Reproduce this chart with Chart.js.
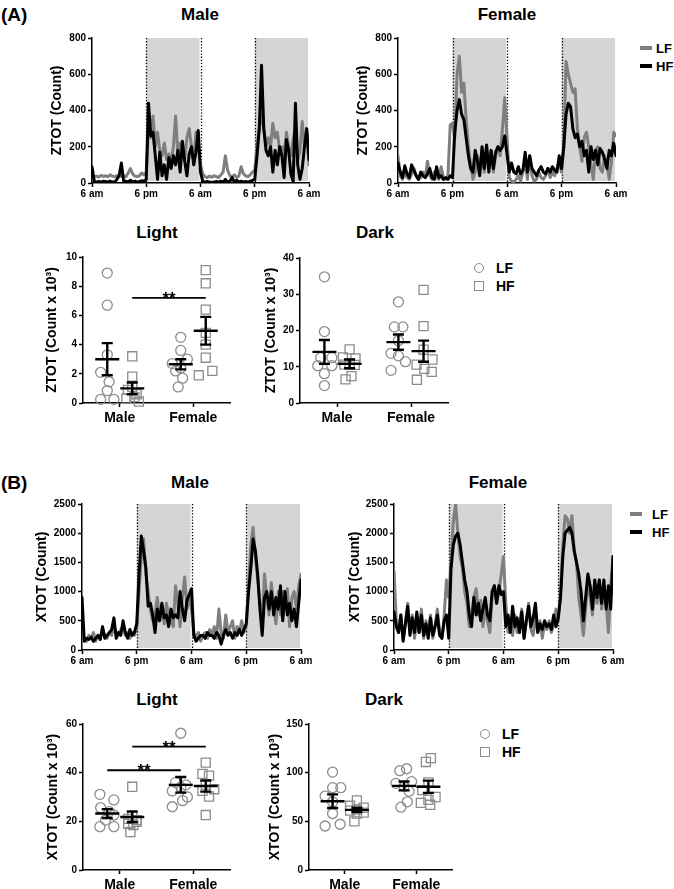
<!DOCTYPE html>
<html>
<head>
<meta charset="utf-8">
<script src="https://cdn.jsdelivr.net/npm/chart.js@4.4.1/dist/chart.umd.min.js"></script>
<style>
  body { margin: 0; background: #fff; font-family: "Liberation Sans", Arial, sans-serif; }
  #page { position: relative; width: 674px; height: 889px; overflow: hidden; background: #fff; }
  canvas { position: absolute; }
  .txt { position: absolute; font-weight: bold; color: #000; white-space: nowrap; line-height: 1; }
  .sw { position: absolute; }
</style>
</head>
<body>
<div id="page"></div>
<script>
// ---------- data ----------
// time bins (hours after 6 am, day 1)
const binHours = [0,0.5,1,1.5,2,2.5,3,3.5,4,4.5,5,5.5,6,6.5,7,7.5,8,8.5,9,9.5,10,10.5,11,11.5,
  12,12.5,13,13.5,14,14.5,15,15.5,16,16.5,17,17.5,18,18.5,19,19.5,20,20.5,21,21.5,22,22.5,23,23.5,
  24,24.5,25,25.5,26,26.5,27,27.5,28,28.5,29,29.5,30,30.5,31,31.5,32,32.5,33,33.5,34,34.5,35,35.5,
  36,36.5,37,37.5,38,38.5,39,39.5,40,40.5,41,41.5,42,42.5,43,43.5,44,44.5,45,45.5,46,46.5,47,47.5,48];
const xTickHours = [0, 12, 24, 36, 48];
const xTickLabels = ['6 am', '6 pm', '6 am', '6 pm', '6 am'];
const darkPhases = [[12, 24], [36, 48]];

// (A) ZTOT counts
const aMaleLF = [40,35,38,33,42,36,40,34,45,38,35,40,42,36,40,35,55,80,50,38,35,40,55,45,60,
  300,250,370,200,280,180,150,220,130,160,110,200,370,150,220,180,130,250,300,200,120,280,200,100,
  50,35,30,38,32,40,35,30,45,60,150,70,40,35,45,30,40,90,50,40,35,45,60,70,
  200,300,380,300,200,250,200,330,250,280,180,200,150,280,200,150,240,300,120,180,340,200,280,100];
const aMaleHF = [90,10,5,8,5,10,8,5,10,5,5,20,40,110,10,10,5,15,5,10,5,8,12,10,20,
  440,260,280,150,20,170,40,100,20,140,80,150,100,180,60,230,120,40,160,200,100,170,290,60,
  10,5,8,5,3,5,8,5,10,5,20,5,10,30,5,15,5,10,5,8,5,10,15,20,
  150,300,650,300,180,150,200,60,180,100,200,150,30,240,180,50,10,440,100,20,80,200,300,130];
const aFemLF = [150,40,20,60,30,20,50,80,40,20,30,60,30,120,40,20,60,30,20,90,30,20,40,320,330,
  250,600,700,500,550,350,200,100,20,60,150,80,180,60,200,100,180,60,150,200,150,300,470,250,
  30,10,5,20,40,10,60,120,20,150,40,10,20,60,30,20,40,80,30,60,40,80,120,60,
  200,670,600,550,500,520,300,200,120,250,280,200,100,20,180,200,80,60,150,100,20,120,280,260];
const aFemHF = [110,60,30,95,50,30,100,70,40,20,60,40,30,50,80,30,20,90,30,40,20,30,20,40,30,
  280,400,460,380,350,250,150,80,60,180,120,40,200,80,210,60,180,80,170,200,180,200,260,160,
  60,110,60,50,90,50,70,170,60,150,80,60,40,70,90,60,50,80,60,90,70,60,150,80,
  200,380,440,420,300,250,270,200,230,150,180,60,200,130,180,100,190,170,130,80,180,150,220,150];

// (B) XTOT counts
const bMaleLF = [250,200,150,250,200,300,150,250,200,350,250,200,300,250,400,300,250,350,400,250,300,200,300,250,400,
  1000,1600,1900,1300,1000,700,500,600,900,500,700,450,800,600,500,400,1100,800,400,900,1250,700,900,700,
  300,200,300,150,250,300,200,350,250,400,200,700,300,200,600,300,400,500,200,400,300,500,300,400,
  1100,1800,2100,1600,1200,800,500,1300,900,600,1150,800,450,1000,600,1000,700,1050,400,900,1000,700,1100,1300];
const bMaleHF = [900,150,200,180,220,150,200,250,180,400,200,250,300,350,550,200,300,250,500,300,200,350,250,300,450,
  1300,1950,1700,1400,750,800,600,300,700,500,800,550,600,400,700,550,600,550,1000,700,500,850,950,1050,
  250,150,200,250,250,200,300,250,250,200,300,250,100,250,350,250,300,200,300,250,350,250,350,450,
  1000,1400,1900,1700,1300,700,250,900,1000,700,1000,600,900,700,1100,500,1000,600,800,500,700,400,800,1200];
const bFemLF = [1350,500,300,600,200,450,800,300,600,200,500,300,700,200,500,250,600,200,400,700,300,200,600,1200,900,
  1500,2200,2500,2000,1600,1400,1000,800,400,600,900,1050,600,850,400,700,500,300,900,1100,800,1000,1300,1600,
  800,300,500,250,600,300,450,700,200,500,800,350,250,600,300,500,200,450,350,500,300,450,700,500,
  1000,1800,2300,2250,2000,2300,1700,1500,900,600,250,700,1200,900,600,1100,800,1200,700,1000,800,300,1100,1600];
const bFemHF = [650,400,300,600,150,450,750,250,550,300,650,300,600,250,450,200,550,250,400,600,250,200,500,600,200,
  1400,1800,1950,2000,1800,1500,1200,1000,600,400,900,600,800,500,700,900,600,500,1000,1100,800,1100,950,1000,
  400,600,300,750,400,550,300,650,200,500,750,400,550,800,300,450,350,500,400,450,350,600,400,550,
  900,1600,2000,2050,2100,2000,1700,1500,1300,1000,500,900,1300,1100,700,1200,900,1200,800,1200,700,1100,700,1600];

// dot plots: groups in order Male LF, Male HF, Female LF, Female HF
const sexes = ['Male', 'Female'];
const aLightMaleLF = [8.9, 6.7, 3.3, 2.1, 1.45, 0.85, 0.25, 0.25];
const aLightMaleHF = [3.2, 1.8, 1.1, 0.9, 0.6, 0.4, 0.3, 0.1];
const aLightFemLF  = [4.5, 3.6, 3.0, 2.7, 2.4, 2.2, 1.7, 1.1];
const aLightFemHF  = [9.1, 8.2, 6.4, 4.8, 4.0, 3.1, 2.2, 1.9];
const aLightMean = [3.0, 1.0, 2.65, 4.95];
const aLightSem  = [1.1, 0.4, 0.35, 0.95];
const aLightSig  = [{from: 1, to: 3, y: 7.2}];

const aDarkMaleLF = [34.8, 19.7, 12.5, 12.5, 10.3, 10.3, 8.1, 4.8];
const aDarkMaleHF = [14.8, 12.6, 12.3, 11.0, 10.6, 10.5, 7.4, 6.5];
const aDarkFemLF  = [27.9, 21.0, 21.0, 17.2, 13.7, 13.0, 11.4, 9.0];
const aDarkFemHF  = [31.2, 21.2, 14.7, 12.0, 10.6, 9.4, 8.6, 6.4];
const aDarkMean = [14.1, 10.8, 16.8, 14.3];
const aDarkSem  = [3.3, 1.2, 2.1, 2.9];

const bLightMaleLF = [31.1, 28.8, 25.6, 24.0, 22.6, 20.5, 17.8, 17.8];
const bLightMaleHF = [34.2, 22.5, 21.0, 20.5, 19.8, 19.0, 18.5, 15.6];
const bLightFemLF  = [56.2, 36.0, 35.0, 34.0, 32.5, 30.0, 28.5, 26.0];
const bLightFemHF  = [44.1, 39.5, 38.8, 35.0, 33.2, 32.5, 30.2, 22.6];
const bLightMean = [23.2, 21.8, 35.0, 34.5];
const bLightSem  = [1.8, 2.2, 3.2, 2.3];
const bLightSig  = [{from: 0, to: 2, y: 41}, {from: 1, to: 3, y: 50.7}];

const bDarkMaleLF = [100.6, 84.6, 84.6, 76.0, 70.0, 58.0, 47.0, 45.2];
const bDarkMaleHF = [71.5, 66.0, 64.0, 62.0, 61.0, 59.0, 58.0, 50.0];
const bDarkFemLF  = [104.0, 102.0, 90.8, 89.0, 86.0, 81.0, 70.0, 64.5];
const bDarkFemHF  = [115.0, 111.0, 90.0, 82.0, 75.0, 72.0, 69.0, 67.0];
const bDarkMean = [70.7, 61.8, 86.4, 85.5];
const bDarkSem  = [7.0, 2.3, 4.6, 6.3];

// ---------- layout only ----------
const FONT = '"Liberation Sans", Arial, sans-serif';
const PAD_T = 10, PAD_R = 16;
const GRAY_LINE = '#7f7f7f', GRAY_DOT = '#8c8c8c', SHADE = '#d5d5d5';
const groupX = [1 - 0.34, 1 + 0.34, 3 - 0.34, 3 + 0.34];
// horizontal spread of points inside each group (x units)
const spread = {
  aLight: [[0,0,0,-0.18,0.05,0,-0.18,0.18],[0,0,0,-0.12,0.12,0.06,-0.16,0.18],[0,0,0.18,-0.23,0,-0.14,0.05,-0.07],[0,0,0,0,0,0,0.18,-0.19]],
  aDark:  [[0,0,-0.1,0.2,-0.18,0.2,0,0],[0,-0.18,0.16,0,-0.14,0.14,0.05,-0.11],[0,-0.11,0.12,0,-0.2,0,0.19,-0.2],[0,0,0,0.24,-0.19,0.02,0.22,-0.18]],
  bLight: [[-0.2,0.18,-0.18,0.05,0.18,-0.05,-0.2,0.18],[0,0,-0.11,0.12,0.12,-0.11,0.03,-0.05],[0,-0.14,0.14,0,-0.23,0.18,0.05,-0.23],[0,-0.09,0.09,0,0.23,-0.09,0.09,0]],
  bDark:  [[0,0,0.23,-0.21,0,0,0.21,-0.21],[0,-0.19,0.19,0,-0.19,0.19,0,-0.07],[0.07,-0.12,0.21,-0.23,0,0.14,0.09,-0.09],[0.07,-0.07,0,-0.17,0.2,0,-0.21,0.05]]
};

const page = document.getElementById('page');

function addCanvas(left, top, w, h) {
  const c = document.createElement('canvas');
  c.width = w; c.height = h;
  c.style.left = left + 'px'; c.style.top = top + 'px';
  c.style.width = w + 'px'; c.style.height = h + 'px';
  page.appendChild(c);
  return c;
}

function addText(text, x, y, size, center) {
  const d = document.createElement('div');
  d.className = 'txt';
  d.textContent = text;
  d.style.fontSize = size + 'px';
  d.style.left = x + 'px'; d.style.top = y + 'px';
  d.style.transform = center ? 'translate(-50%,-50%)' : 'translate(0,-50%)';
  page.appendChild(d);
}

function addSwatch(x, y, w, h, css) {
  const d = document.createElement('div');
  d.className = 'sw';
  d.style.left = (x - w / 2) + 'px'; d.style.top = (y - h / 2) + 'px';
  d.style.width = w + 'px'; d.style.height = h + 'px';
  Object.assign(d.style, css);
  page.appendChild(d);
}

// dark phase shading + dotted boundaries
const nightPlugin = {
  id: 'night',
  beforeDatasetsDraw(chart, args, opts) {
    const {ctx, chartArea: a, scales: {x}} = chart;
    ctx.save();
    ctx.fillStyle = SHADE;
    opts.phases.forEach(([s, e]) => {
      const x0 = x.getPixelForValue(s), x1 = x.getPixelForValue(e);
      ctx.fillRect(x0, a.top, x1 - x0 - 1, a.bottom - a.top - 2);
    });
    ctx.strokeStyle = '#000';
    ctx.lineWidth = 1.3;
    ctx.setLineDash([1.3, 1.8]);
    opts.phases.flat().filter(h => h < x.max).forEach(h => {
      const px = Math.round(x.getPixelForValue(h)) + 0.5;
      ctx.beginPath();
      ctx.moveTo(px, a.top);
      ctx.lineTo(px, a.bottom);
      ctx.stroke();
    });
    ctx.restore();
  }
};

// mean +/- SEM bars
const meanSemPlugin = {
  id: 'meanSem',
  afterDatasetsDraw(chart, args, opts) {
    const {ctx, scales: {x, y}} = chart;
    ctx.save();
    ctx.strokeStyle = '#000';
    ctx.lineWidth = 2.4;
    opts.means.forEach((m, i) => {
      const px = x.getPixelForValue(groupX[i]);
      const pm = y.getPixelForValue(m);
      const pt = y.getPixelForValue(m + opts.sems[i]);
      const pb = y.getPixelForValue(m - opts.sems[i]);
      ctx.beginPath();
      ctx.moveTo(px - 12, pm); ctx.lineTo(px + 12, pm);
      ctx.moveTo(px, pt); ctx.lineTo(px, pb);
      ctx.moveTo(px - 5.5, pt); ctx.lineTo(px + 5.5, pt);
      ctx.moveTo(px - 5.5, pb); ctx.lineTo(px + 5.5, pb);
      ctx.stroke();
    });
    // significance bars
    (opts.sig || []).forEach(b => {
      const x0 = x.getPixelForValue(groupX[b.from]);
      const x1 = x.getPixelForValue(groupX[b.to]);
      const py = y.getPixelForValue(b.y);
      ctx.lineWidth = 1.8;
      ctx.beginPath();
      ctx.moveTo(x0, py); ctx.lineTo(x1, py);
      ctx.stroke();
      ctx.fillStyle = '#000';
      ctx.font = 'bold 17px ' + FONT;
      ctx.textAlign = 'center';
      ctx.textBaseline = 'alphabetic';
      ctx.fillText('**', (x0 + x1) / 2, py + 6);
    });
    ctx.restore();
  }
};

function scalesFor(yW, xH, yTicks, yTitle, xTicks, xLabels, xMax, xFont, xPad) {
  const common = {
    border: {display: true, color: '#000', width: 1.5},
    grid: {display: true, drawOnChartArea: false, drawTicks: true, tickLength: 4, tickColor: '#000', tickWidth: 1.5}
  };
  return {
    x: Object.assign({
      type: 'linear', min: 0, max: xMax,
      afterBuildTicks: s => { s.ticks = xTicks.map(v => ({value: v})); },
      afterFit: s => { s.height = xH; },
      ticks: {autoSkip: false, maxRotation: 0, color: '#000', padding: xPad,
        font: {family: FONT, size: xFont, weight: 'bold'},
        callback: (v, i) => xLabels[i]}
    }, common),
    y: Object.assign({
      min: 0, max: yTicks[yTicks.length - 1],
      afterBuildTicks: s => { s.ticks = yTicks.map(v => ({value: v})); },
      afterFit: s => { s.width = yW; },
      ticks: {color: '#000', padding: 2, font: {family: FONT, size: 10, weight: 'bold'},
        callback: v => String(v)},
      title: {display: true, text: yTitle, color: '#000', padding: 0,
        font: {family: FONT, size: 14, weight: 'bold'}}
    }, common)
  };
}

function tsChart(area, titleX, yTicks, yTitle, lf, hf) {
  const yW = Math.round(area.l - titleX + 8.4);
  const xH = 20;
  const c = addCanvas(area.l - yW, area.t - PAD_T, yW + area.r - area.l + PAD_R, PAD_T + area.b - area.t + xH);
  new Chart(c, {
    type: 'line',
    data: {
      datasets: [
        {label: 'HF', data: hf.map((v, i) => ({x: binHours[i], y: v})), borderColor: '#000', borderWidth: 3},
        {label: 'LF', data: lf.map((v, i) => ({x: binHours[i], y: v})), borderColor: GRAY_LINE, borderWidth: 3}
      ]
    },
    options: {
      responsive: false, animation: false, devicePixelRatio: 1,
      layout: {padding: {top: PAD_T, right: PAD_R, left: 0, bottom: 0}},
      elements: {point: {radius: 0}, line: {tension: 0, borderJoinStyle: 'round', borderCapStyle: 'round', fill: false}},
      plugins: {legend: {display: false}, tooltip: {enabled: false}, night: {phases: darkPhases}},
      scales: scalesFor(yW, xH, yTicks, yTitle, xTickHours, xTickLabels, 48, 10, 1)
    },
    plugins: [nightPlugin]
  });
}

function dotChart(area, titleX, yTicks, yTitle, groups, jit, means, sems, sig) {
  const yW = Math.round(area.l - titleX + 8.4);
  const xH = 30;
  const c = addCanvas(area.l - yW, area.t - PAD_T, yW + area.r - area.l + PAD_R, PAD_T + area.b - area.t + xH);
  new Chart(c, {
    type: 'scatter',
    data: {
      datasets: groups.map((vals, k) => ({
        data: vals.map((v, i) => ({x: groupX[k] + jit[k][i], y: v})),
        pointStyle: k % 2 ? 'rect' : 'circle',
        pointRadius: k % 2 ? 6.4 : 5,
        borderColor: GRAY_DOT,
        backgroundColor: 'rgba(0,0,0,0)',
        borderWidth: 1.3,
        clip: false
      }))
    },
    options: {
      responsive: false, animation: false, devicePixelRatio: 1,
      layout: {padding: {top: PAD_T, right: PAD_R, left: 0, bottom: 0}},
      plugins: {legend: {display: false}, tooltip: {enabled: false}, meanSem: {means, sems, sig}},
      scales: scalesFor(yW, xH, yTicks, yTitle, [1, 3], sexes, 4, 14, 3)
    },
    plugins: [meanSemPlugin]
  });
}

function lineLegend(x, y1, y2, textX) {
  addSwatch(x, y1, 12, 3.5, {background: GRAY_LINE});
  addSwatch(x, y2, 12, 3.5, {background: '#000'});
  addText('LF', textX, y1, 13, false);
  addText('HF', textX, y2, 13, false);
}

function dotLegend(x, y1, y2, textX) {
  addSwatch(x, y1, 10, 10, {border: '1.3px solid ' + GRAY_DOT, borderRadius: '50%', boxSizing: 'border-box'});
  addSwatch(x, y2, 9.5, 9.5, {border: '1.3px solid ' + GRAY_DOT, boxSizing: 'border-box'});
  addText('LF', textX, y1, 14, false);
  addText('HF', textX, y2, 14, false);
}

// ---------- panel (A) ----------
addText('(A)', 1, 14, 19, false);
addText('Male', 200, 14, 17, true);
addText('Female', 507, 14, 17, true);
tsChart({l: 92, t: 38, r: 309, b: 183}, 57, [0, 200, 400, 600, 800], 'ZTOT (Count)', aMaleLF, aMaleHF);
tsChart({l: 398, t: 38, r: 616, b: 183}, 363, [0, 200, 400, 600, 800], 'ZTOT (Count)', aFemLF, aFemHF);
lineLegend(646, 48, 66, 656);

addText('Light', 157, 232, 17, true);
addText('Dark', 375, 232, 17, true);
dotChart({l: 83, t: 257, r: 230, b: 403}, 52, [0, 2, 4, 6, 8, 10], 'ZTOT (Count x 10³)',
  [aLightMaleLF, aLightMaleHF, aLightFemLF, aLightFemHF], spread.aLight, aLightMean, aLightSem, aLightSig);
dotChart({l: 300, t: 258, r: 448, b: 403}, 271, [0, 10, 20, 30, 40], 'ZTOT (Count x 10³)',
  [aDarkMaleLF, aDarkMaleHF, aDarkFemLF, aDarkFemHF], spread.aDark, aDarkMean, aDarkSem, []);
dotLegend(479, 268, 286, 496);

// ---------- panel (B) ----------
addText('(B)', 1, 482, 19, false);
addText('Male', 190, 482, 17, true);
addText('Female', 498, 482, 17, true);
tsChart({l: 82, t: 504, r: 301, b: 650}, 42, [0, 500, 1000, 1500, 2000, 2500], 'XTOT (Count)', bMaleLF, bMaleHF);
tsChart({l: 394, t: 504, r: 613, b: 650}, 355, [0, 500, 1000, 1500, 2000, 2500], 'XTOT (Count)', bFemLF, bFemHF);
lineLegend(636, 514, 532, 652);

addText('Light', 157, 699, 17, true);
addText('Dark', 384, 699, 17, true);
dotChart({l: 83, t: 724, r: 230, b: 870}, 53, [0, 20, 40, 60], 'XTOT (Count x 10³)',
  [bLightMaleLF, bLightMaleHF, bLightFemLF, bLightFemHF], spread.bLight, bLightMean, bLightSem, bLightSig);
dotChart({l: 309, t: 724, r: 452, b: 870}, 275, [0, 50, 100, 150], 'XTOT (Count x 10³)',
  [bDarkMaleLF, bDarkMaleHF, bDarkFemLF, bDarkFemHF], spread.bDark, bDarkMean, bDarkSem, []);
dotLegend(485, 734, 752, 502);
</script>
</body>
</html>
